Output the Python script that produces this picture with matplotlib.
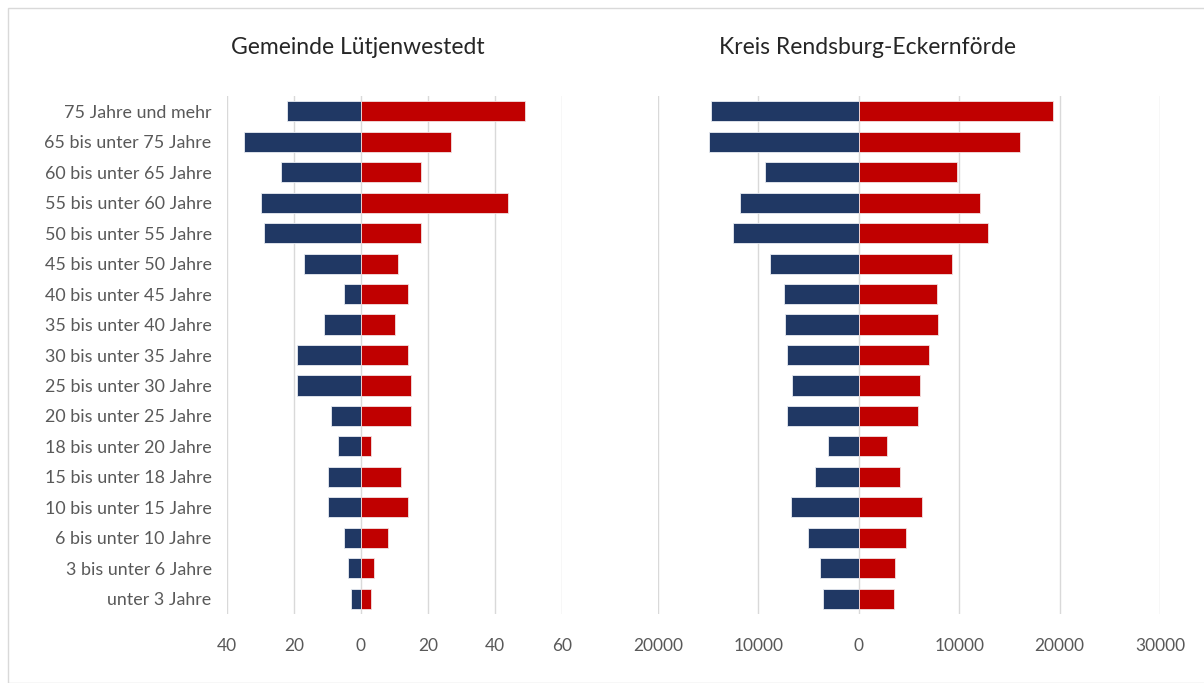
import matplotlib
matplotlib.use("Agg")
import matplotlib.pyplot as plt
from matplotlib.patches import Rectangle

plt.rcParams['font.family'] = ['Lato', 'DejaVu Sans']

categories = ["75 Jahre und mehr", "65 bis unter 75 Jahre", "60 bis unter 65 Jahre",
              "55 bis unter 60 Jahre", "50 bis unter 55 Jahre", "45 bis unter 50 Jahre",
              "40 bis unter 45 Jahre", "35 bis unter 40 Jahre", "30 bis unter 35 Jahre",
              "25 bis unter 30 Jahre", "20 bis unter 25 Jahre", "18 bis unter 20 Jahre",
              "15 bis unter 18 Jahre", "10 bis unter 15 Jahre", "6 bis unter 10 Jahre",
              "3 bis unter 6 Jahre", "unter 3 Jahre"]

gem_left = [22, 35, 24, 30, 29, 17, 5, 11, 19, 19, 9, 7, 10, 10, 5, 4, 3]
gem_right = [49, 27, 18, 44, 18, 11, 14, 10, 14, 15, 15, 3, 12, 14, 8, 4, 3]

kreis_left = [14700, 14930, 9330, 11800, 12500, 8860, 7460, 7330, 7200, 6630, 7200,
              3100, 4400, 6730, 5100, 3830, 3600]
kreis_right = [19340, 16070, 9740, 12070, 12900, 9270, 7740, 7870, 7040, 6100, 5870,
               2800, 4100, 6340, 4700, 3640, 3500]

titles = ["Gemeinde Lütjenwestedt", "Kreis Rendsburg-Eckernförde"]
left_ticks = [-40, -20, 0, 20, 40, 60]
right_ticks = [-20000, -10000, 0, 10000, 20000, 30000]

BLUE = "#203864"
RED = "#C00000"
GRID = "#D9D9D9"
TXT = "#595959"

W, H = 1204, 683
fig = plt.figure(figsize=(W / 100, H / 100), dpi=100)

# light frame
fig.patches.append(Rectangle((8 / W, 0), 1, (H - 8) / H, transform=fig.transFigure,
                             fill=False, edgecolor="#D9D9D9", linewidth=1))

top, bot = 96, 614
ax1 = fig.add_axes([227 / W, 1 - bot / H, (562 - 227) / W, (bot - top) / H])
ax2 = fig.add_axes([658 / W, 1 - bot / H, (1160 - 658) / W, (bot - top) / H])

ypos = list(range(len(categories)))

for ax, lv, rv, ticks, title, tx in [
        (ax1, gem_left, gem_right, left_ticks, titles[0], 358),
        (ax2, kreis_left, kreis_right, right_ticks, titles[1], 868)]:
    ax.barh(ypos, [-v for v in lv], height=0.66, color=BLUE, edgecolor="#E8ECF2",
            linewidth=0.6, zorder=3)
    ax.barh(ypos, rv, height=0.66, color=RED, edgecolor="#F2E0E0",
            linewidth=0.6, zorder=3)
    ax.set_xlim(ticks[0], ticks[-1])
    ax.set_ylim(len(categories) - 0.5, -0.5)
    ax.set_xticks(ticks)
    ax.set_xticklabels([str(abs(t)) for t in ticks])
    ax.xaxis.grid(True, color=GRID, linewidth=1, zorder=0)
    ax.set_axisbelow(True)
    for s in ax.spines.values():
        s.set_visible(False)
    ax.tick_params(axis='x', length=0, pad=17, labelsize=12.5, colors=TXT)
    ax.tick_params(axis='y', length=0)
    fig.text(tx / W, 1 - 47 / H, title, ha='center', va='center', fontsize=16.5,
             color="#262626")

ax1.set_yticks(ypos)
ax1.set_yticklabels(categories)
ax1.tick_params(axis='y', pad=11, labelsize=12.9, colors=TXT)
ax2.set_yticks([])

fig.savefig("out.png", dpi=100)
